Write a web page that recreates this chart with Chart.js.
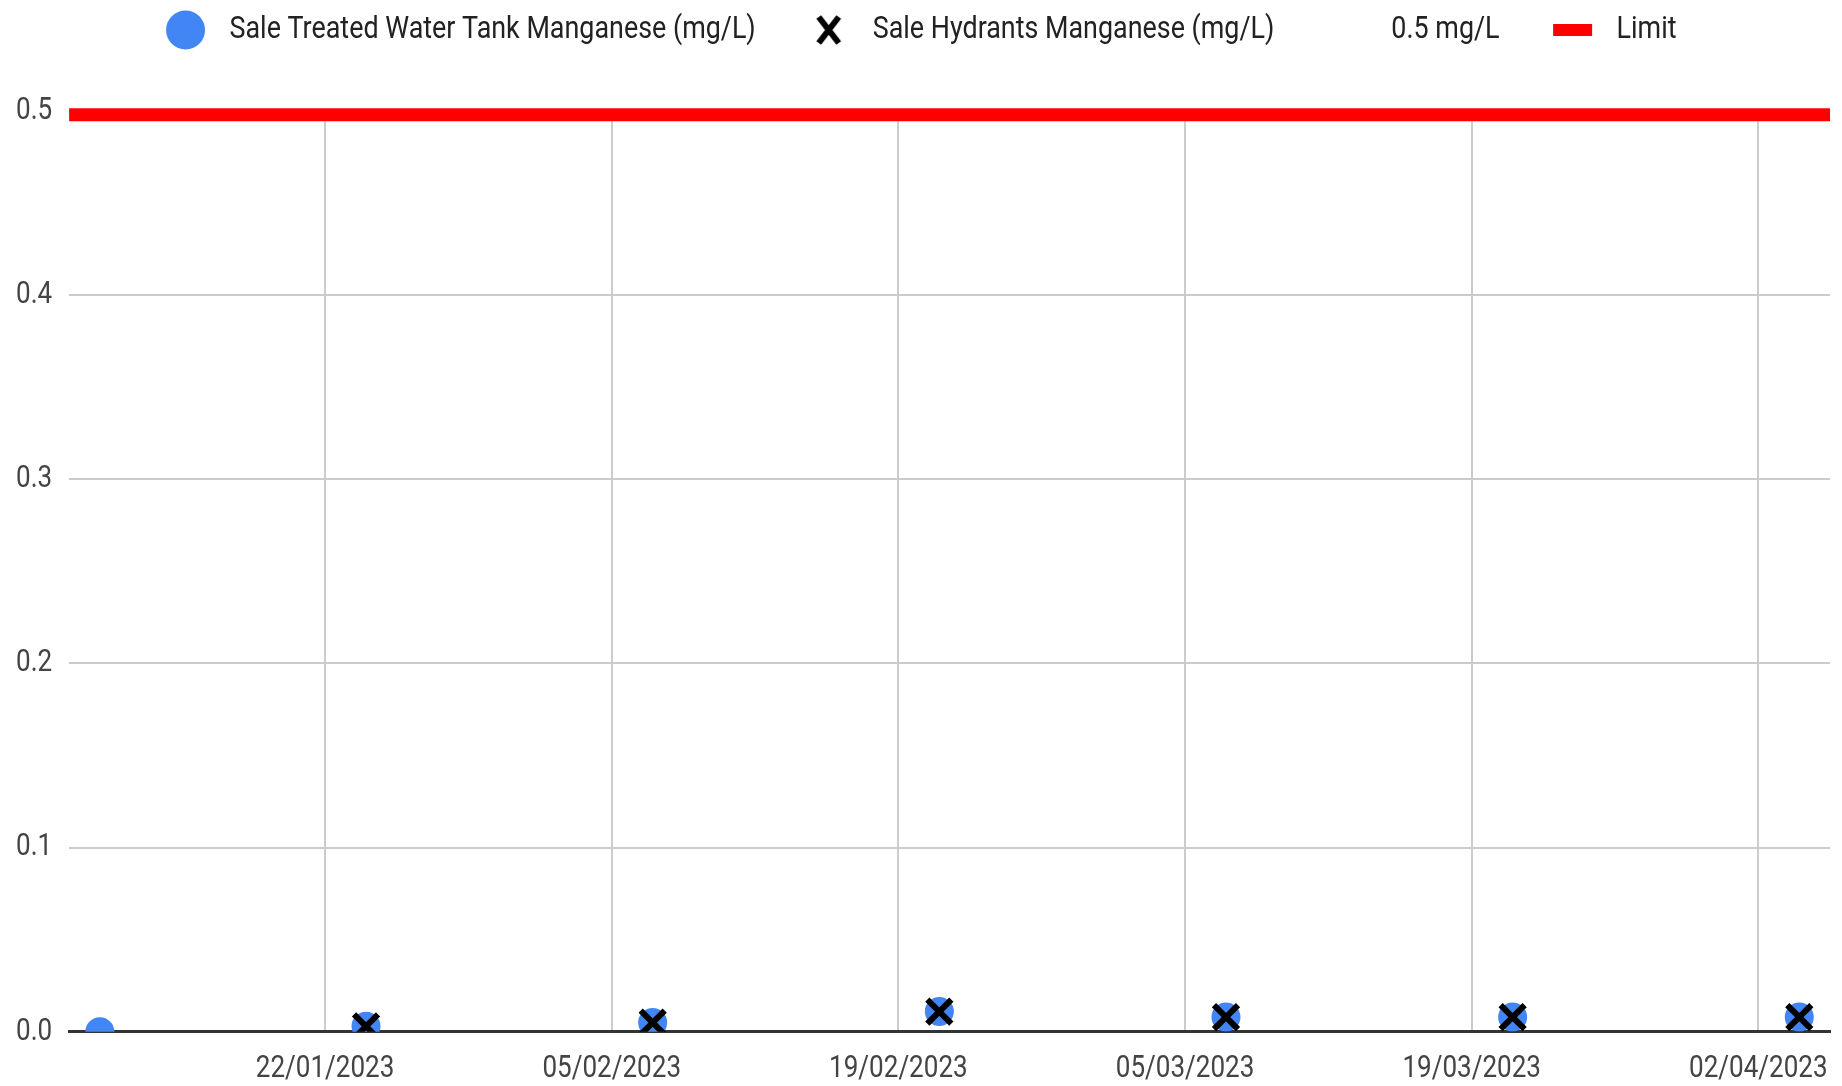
<!DOCTYPE html>
<html>
<head>
<meta charset="utf-8">
<title>Sale Manganese</title>
<script src="https://cdn.jsdelivr.net/npm/chart.js@4.4.0/dist/chart.umd.min.js"></script>
<style>
  html, body { margin: 0; padding: 0; background: #ffffff; }
  #wrap { width: 1842px; height: 1086px; position: relative; }
</style>
</head>
<body>
<div id="wrap"><canvas id="chart"></canvas></div>
<script>
// Sample dates (dd/mm/yyyy) and results in mg/L
const tankDates = ['11/01/2023', '24/01/2023', '07/02/2023', '21/02/2023', '07/03/2023', '21/03/2023', '04/04/2023'];
const tankManganese = [0.000, 0.003, 0.005, 0.011, 0.008, 0.008, 0.008];

const hydrantDates = ['24/01/2023', '07/02/2023', '21/02/2023', '07/03/2023', '21/03/2023', '04/04/2023'];
const hydrantManganese = [0.003, 0.005, 0.011, 0.008, 0.008, 0.008];

// Limit line runs across the whole date axis
const limitLevel = [0.498, 0.498];

// Axis labels
const xTickDates = ['22/01/2023', '05/02/2023', '19/02/2023', '05/03/2023', '19/03/2023', '02/04/2023'];
const yTickLabels = ['0.0', '0.1', '0.2', '0.3', '0.4', '0.5'];

const legendNames = ['Sale Treated Water Tank Manganese (mg/L)', 'Sale Hydrants Manganese (mg/L)', '0.5 mg/L', 'Limit'];

const FONT = "Roboto, 'Liberation Sans', sans-serif";
const SQUEEZE = 0.84;   // the original text is drawn narrow

function toDay(s) {
    const [d, m, y] = s.split('/').map(Number);
    return Date.UTC(y, m - 1, d) / 86400000;
}

function fromDay(v) {
    const dt = new Date(Math.round(v) * 86400000);
    const dd = String(dt.getUTCDate()).padStart(2, '0');
    const mm = String(dt.getUTCMonth() + 1).padStart(2, '0');
    return dd + '/' + mm + '/' + dt.getUTCFullYear();
}

// a day and a half of padding either side of the samples
const xMin = toDay(tankDates[0]) - 1.5;
const xMax = toDay(tankDates[tankDates.length - 1]) + 1.5;

// little canvases used as legend markers (drawn right of centre)
function marker(draw) {
    const c = document.createElement('canvas');
    c.width = 76;
    c.height = 40;
    const g = c.getContext('2d');
    if (draw) draw(g, 55.5, 20);
    return c;
}

const legendMarkers = [
    marker((g, x, y) => {
        g.fillStyle = '#4285F4';
        g.beginPath();
        g.arc(x, y, 19.5, 0, Math.PI * 2);
        g.fill();
    }),
    marker((g, x, y) => {
        g.strokeStyle = '#000000';
        g.lineWidth = 6;
        g.beginPath();
        g.moveTo(x - 10, y - 13); g.lineTo(x + 10, y + 13);
        g.moveTo(x + 10, y - 13); g.lineTo(x - 10, y + 13);
        g.stroke();
    }),
    marker(null),
    marker((g, x, y) => {
        g.fillStyle = '#FF0000';
        g.fillRect(x - 19.5, y - 6, 39, 12);
    })
];

const ctx = document.getElementById('chart').getContext('2d');

// squeeze text horizontally, both when drawing and when measuring
const rawFill = ctx.fillText.bind(ctx);
const rawMeasure = ctx.measureText.bind(ctx);
ctx.fillText = function(text, x, y) {
    this.save();
    this.translate(x, y);
    this.scale(SQUEEZE, 1);
    rawFill(text, 0, 0);
    this.restore();
};
ctx.measureText = function(text) {
    const m = rawMeasure(text);
    return {
        width: m.width * SQUEEZE,
        actualBoundingBoxLeft: m.actualBoundingBoxLeft * SQUEEZE,
        actualBoundingBoxRight: m.actualBoundingBoxRight * SQUEEZE,
        actualBoundingBoxAscent: m.actualBoundingBoxAscent,
        actualBoundingBoxDescent: m.actualBoundingBoxDescent
    };
};

const bottomClip = { left: false, top: false, right: false, bottom: 0 };

new Chart(ctx, {
    type: 'scatter',
    data: {
        datasets: [
            {
                label: legendNames[0],
                data: tankDates.map((d, i) => ({ x: toDay(d), y: tankManganese[i] })),
                pointStyle: 'circle',
                pointRadius: 14.5,
                pointBackgroundColor: '#4285F4',
                pointBorderWidth: 0,
                clip: bottomClip,
                order: 2
            },
            {
                label: legendNames[1],
                data: hydrantDates.map((d, i) => ({ x: toDay(d), y: hydrantManganese[i] })),
                pointStyle: 'crossRot',
                pointRadius: 17,
                pointBorderWidth: 6,
                pointBorderColor: '#000000',
                clip: bottomClip,
                order: 1
            },
            {
                label: legendNames[3],
                data: [{ x: xMin, y: limitLevel[0] }, { x: xMax, y: limitLevel[1] }],
                showLine: true,
                borderColor: '#FF0000',
                borderWidth: 13,
                pointRadius: 0,
                clip: false,
                order: 3
            }
        ]
    },
    options: {
        responsive: true,
        maintainAspectRatio: false,
        animation: false,
        events: [],
        layout: {
            autoPadding: false,
            padding: { left: -1, right: 12, top: 4, bottom: -5 }
        },
        plugins: {
            tooltip: { enabled: false },
            legend: {
                position: 'top',
                align: 'center',
                labels: {
                    usePointStyle: true,
                    pointStyleWidth: 91,
                    padding: 10,
                    color: '#222222',
                    font: { family: FONT, size: 32 },
                    generateLabels: function() {
                        return legendNames.map((name, i) => ({
                            text: name,
                            pointStyle: legendMarkers[i],
                            fillStyle: 'transparent',
                            strokeStyle: 'transparent',
                            lineWidth: 0,
                            fontColor: '#222222',
                            hidden: false,
                            datasetIndex: i
                        }));
                    }
                }
            }
        },
        scales: {
            x: {
                type: 'linear',
                min: xMin,
                max: xMax,
                afterBuildTicks: function(scale) {
                    scale.ticks = xTickDates.map(d => ({ value: toDay(d) }));
                },
                ticks: {
                    autoSkip: false,
                    maxRotation: 0,
                    padding: 3,
                    color: '#444444',
                    font: { family: FONT, size: 31 },
                    callback: v => fromDay(v)
                },
                // invisible tick marks keep the labels off the axis
                grid: { color: '#cccccc', lineWidth: 2, drawTicks: true, tickLength: 16, tickColor: 'rgba(0,0,0,0)' },
                border: { color: '#333333', width: 3 }
            },
            y: {
                min: 0,
                max: 0.5,
                afterBuildTicks: function(scale) {
                    scale.ticks = yTickLabels.map(t => ({ value: parseFloat(t) }));
                },
                ticks: {
                    padding: 17,
                    color: '#444444',
                    font: { family: FONT, size: 31 },
                    callback: (v, i) => yTickLabels[i]
                },
                grid: { color: '#cccccc', lineWidth: 2, drawTicks: false },
                border: { display: false }
            }
        }
    },
    plugins: [{
        // extra room under the legend, and nudge it left a little
        id: 'legendGap',
        beforeInit(chart) {
            const fit = chart.legend.fit;
            chart.legend.fit = function() {
                fit.call(this);
                this.height += 55;
            };
        },
        afterLayout(chart) {
            chart.legend.left -= 15;
            chart.legend.right -= 15;
        }
    }]
});
</script>
</body>
</html>
